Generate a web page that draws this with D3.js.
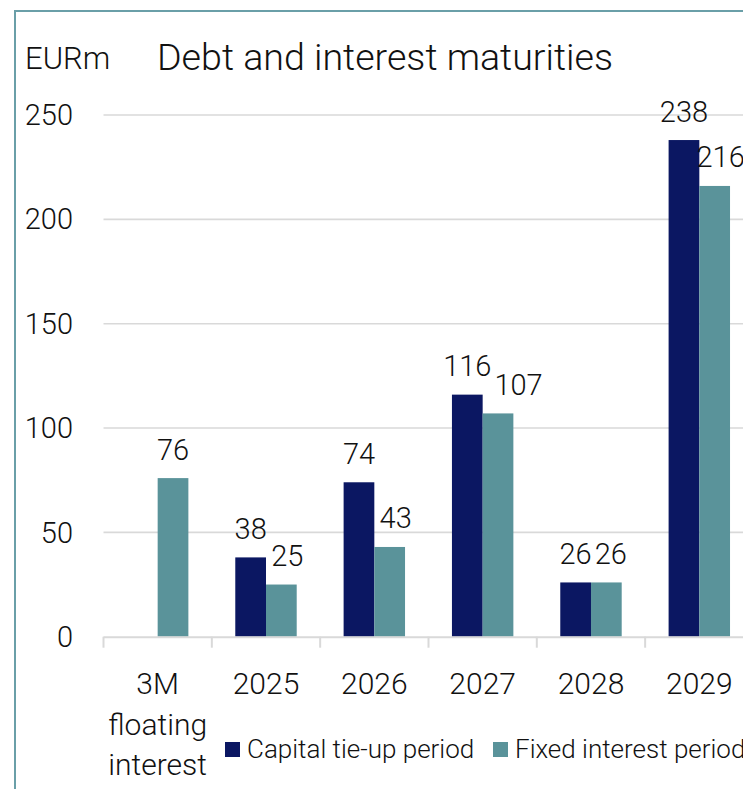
<!DOCTYPE html>
<html>
<head>
<meta charset="utf-8">
<script src="https://cdn.jsdelivr.net/npm/d3@7"></script>
<style>
  html, body { margin: 0; padding: 0; background: #fff; }
  svg { display: block; font-family: Roboto, "Noto Sans", sans-serif; font-weight: 300; }
</style>
</head>
<body>
<svg id="chart" width="743" height="789"></svg>
<script>
// Maturity buckets and amounts (EUR million)
const categories = ["3M\nfloating\ninterest", "2025", "2026", "2027", "2028", "2029"];
const capitalTieUp = [null, 38, 74, 116, 26, 238];
const fixedInterest = [76, 25, 43, 107, 26, 216];
const yTicks = [0, 50, 100, 150, 200, 250];
const seriesNames = ["Capital tie-up period", "Fixed interest period"];
const seriesColors = ["#0b1762", "#5a939a"];

const svg = d3.select("#chart");

// Frame lines along the top and left edges
svg.append("line").attr("x1", 15).attr("x2", 743).attr("y1", 11).attr("y2", 11)
  .attr("stroke", "#6a9fa8").attr("stroke-width", 2);
svg.append("line").attr("x1", 15).attr("x2", 15).attr("y1", 10).attr("y2", 789)
  .attr("stroke", "#6a9fa8").attr("stroke-width", 2);

const plotLeft = 103.5, bandStep = 108.33;
const x0 = d3.scaleBand()
  .domain(categories)
  .range([plotLeft, plotLeft + bandStep * categories.length])
  .paddingInner(0).paddingOuter(0);
const x1 = d3.scaleBand()
  .domain(seriesNames)
  .range([x0.bandwidth() * 0.2165, x0.bandwidth() * 0.7835]);
const y = d3.scaleLinear().domain([0, 250]).range([636.7, 115]);

// Horizontal gridlines
svg.append("g").selectAll("line")
  .data(yTicks.filter(t => t > 0))
  .join("line")
  .attr("x1", plotLeft).attr("x2", 743)
  .attr("y1", d => y(d)).attr("y2", d => y(d))
  .attr("stroke", "#d9d9d9").attr("stroke-width", 1.6);

// Y axis labels
svg.append("g").selectAll("text")
  .data(yTicks)
  .join("text")
  .attr("x", 73).attr("y", d => y(d)).attr("dy", "0.35em")
  .attr("text-anchor", "end")
  .attr("font-size", 29).attr("fill", "#111")
  .text(d => d);

// Bars
const rows = categories.map((c, i) => ({ cat: c, vals: [capitalTieUp[i], fixedInterest[i]] }));
const groups = svg.append("g").selectAll("g")
  .data(rows)
  .join("g")
  .attr("transform", d => `translate(${x0(d.cat)},0)`);

groups.selectAll("rect")
  .data(d => d.vals.map((v, k) => ({ v, k })).filter(e => e.v != null))
  .join("rect")
  .attr("x", e => x1(seriesNames[e.k]))
  .attr("width", x1.bandwidth())
  .attr("y", e => y(e.v))
  .attr("height", e => y(0) - y(e.v))
  .attr("fill", e => seriesColors[e.k]);

// X axis line with category separators
const axis = svg.append("g");
axis.append("line")
  .attr("x1", plotLeft).attr("x2", 743)
  .attr("y1", y(0) + 0.5).attr("y2", y(0) + 0.5)
  .attr("stroke", "#d9d9d9").attr("stroke-width", 2);
axis.selectAll("line.sep")
  .data(categories.map(c => x0(c)))
  .join("line").attr("class", "sep")
  .attr("x1", d => d).attr("x2", d => d)
  .attr("y1", y(0)).attr("y2", y(0) + 11)
  .attr("stroke", "#d9d9d9").attr("stroke-width", 2);

// Category labels (multi-line)
const catLabels = svg.append("g").selectAll("text")
  .data(categories)
  .join("text")
  .attr("text-anchor", "middle")
  .attr("font-size", 30).attr("fill", "#111")
  .attr("x", d => x0(d) + x0.bandwidth() / 2)
  .attr("y", 694);
catLabels.selectAll("tspan")
  .data(d => d.split("\n").map(t => ({ t, cat: d })))
  .join("tspan")
  .attr("x", d => x0(d.cat) + x0.bandwidth() / 2)
  .attr("dy", (d, i) => i === 0 ? 0 : 40.5)
  .text(d => d.t);

// Value labels, nudging the second label clear of the first
const labelLayer = svg.append("g").attr("font-size", 29).attr("fill", "#111").attr("text-anchor", "middle");
rows.forEach(r => {
  const base = x0(r.cat);
  let capBox = null;
  r.vals.forEach((v, k) => {
    if (v == null) return;
    const cx = base + x1(seriesNames[k]) + x1.bandwidth() / 2;
    const by = y(v) - 18.5;
    const t = labelLayer.append("text").attr("x", cx).attr("y", by).text(v);
    const w = t.node().getComputedTextLength();
    if (k === 0) {
      capBox = { right: cx + w / 2, top: by - 22, bottom: by };
    } else if (capBox) {
      let nx = cx + 6;
      const overlapsV = !(by < capBox.top || by - 22 > capBox.bottom);
      if (overlapsV) nx = Math.max(cx, capBox.right + 3 + w / 2);
      t.attr("x", nx);
    }
  });
});

// Axis unit and title
svg.append("text").attr("x", 25).attr("y", 69).attr("font-size", 31).attr("fill", "#111").text("EURm");
svg.append("text").attr("x", 157).attr("y", 70).attr("font-size", 37.6).attr("fill", "#111")
  .text("Debt and interest maturities");

// Legend
const legend = svg.append("g");
const legendX = [225, 493];
seriesNames.forEach((name, k) => {
  legend.append("rect").attr("x", legendX[k]).attr("y", 742).attr("width", 15).attr("height", 15)
    .attr("fill", seriesColors[k]);
  legend.append("text").attr("x", legendX[k] + 22).attr("y", 757.5)
    .attr("font-size", 26).attr("fill", "#111").text(name);
});
</script>
</body>
</html>
